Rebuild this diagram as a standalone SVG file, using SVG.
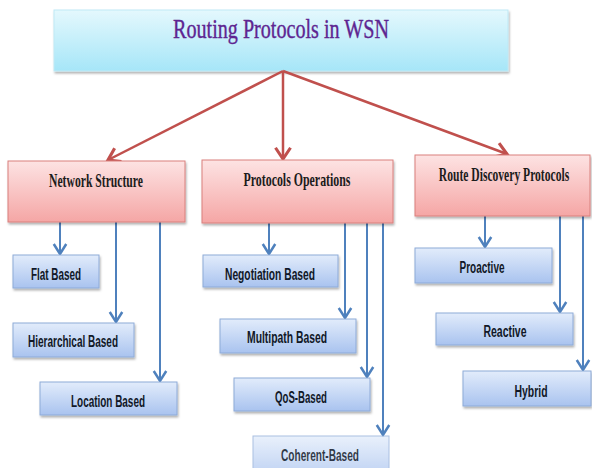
<svg xmlns="http://www.w3.org/2000/svg" width="592" height="468" viewBox="0 0 592 468">
<style>
.red{fill:url(#gRed);stroke:#d9807d;stroke-width:1}
.blue{fill:url(#gBlue);stroke:#8eabd8;stroke-width:1}
.rt{font-family:"Liberation Serif","Times New Roman",serif;font-weight:bold;font-size:19px;fill:#1c1c1c;text-anchor:middle}
.bt{font-family:"Liberation Sans",Arial,sans-serif;font-weight:bold;font-size:16px;fill:#111827;text-anchor:middle}
.ra{stroke:#c0504d;stroke-width:2.5;fill:none;marker-end:url(#mRed)}
.ba{stroke:#4f81bd;stroke-width:2;fill:none;marker-end:url(#mBlue)}
</style>
<defs>
<linearGradient id="gTitle" x1="0" y1="0" x2="0" y2="1">
<stop offset="0" stop-color="#e4f8fd"/><stop offset="1" stop-color="#a6e6f8"/>
</linearGradient>
<linearGradient id="gRed" x1="0" y1="0" x2="0" y2="1">
<stop offset="0" stop-color="#fde3e3"/><stop offset="1" stop-color="#f5a6a5"/>
</linearGradient>
<linearGradient id="gBlue" x1="0" y1="0" x2="0" y2="1">
<stop offset="0" stop-color="#e2ecfb"/><stop offset="1" stop-color="#a9c3ef"/>
</linearGradient>
<filter id="sh" x="-10%" y="-20%" width="120%" height="150%">
<feDropShadow dx="1" dy="2" stdDeviation="1.2" flood-color="#000" flood-opacity="0.3"/>
</filter>
<marker id="mRed" markerUnits="userSpaceOnUse" markerWidth="20" markerHeight="20" refX="0" refY="0" viewBox="-12 -8 14 16" orient="auto" overflow="visible">
<path d="M-9,-6 L0,0 L-9,6" fill="none" stroke="#c0504d" stroke-width="2.5"/>
</marker>
<marker id="mBlue" markerUnits="userSpaceOnUse" markerWidth="20" markerHeight="20" refX="0" refY="0" viewBox="-12 -8 14 16" orient="auto" overflow="visible">
<path d="M-8,-5 L0,0 L-8,5" fill="none" stroke="#4f81bd" stroke-width="2"/>
</marker>
</defs>
<rect width="592" height="468" fill="#ffffff"/>

<g id="title">
<rect x="54" y="10" width="454" height="61" fill="url(#gTitle)" stroke="#bfe9f5" stroke-width="1" filter="url(#sh)"/>
<text x="281" y="38" font-family="Liberation Serif,'Times New Roman',serif" font-size="28" fill="#5e2591" stroke="#5e2591" stroke-width="0.4" text-anchor="middle" textLength="216" lengthAdjust="spacingAndGlyphs">Routing Protocols in WSN</text>
</g>

<g id="connectors">
<path class="ra" d="M283,71 L108,160"/>
<path class="ra" d="M283,71 L283,159"/>
<path class="ra" d="M283,71 L507,154"/>
<path class="ba" d="M60,222 L60,254"/>
<path class="ba" d="M116,222 L116,322"/>
<path class="ba" d="M160,222 L160,381"/>
<path class="ba" d="M269,223 L269,254"/>
<path class="ba" d="M345,223 L345,318"/>
<path class="ba" d="M367,223 L367,377"/>
<path class="ba" d="M383,223 L383,435"/>
<path class="ba" d="M485,216 L485,247"/>
<path class="ba" d="M560,216 L560,312"/>
<path class="ba" d="M583,216 L583,370"/>
</g>

<g id="network-structure">
<rect class="red" x="8" y="161" width="177" height="61" filter="url(#sh)"/>
<text class="rt" x="96" y="187" textLength="94" lengthAdjust="spacingAndGlyphs">Network Structure</text>
</g>
<g id="protocols-operations">
<rect class="red" x="202" y="160" width="191" height="63" filter="url(#sh)"/>
<text class="rt" x="297" y="186" textLength="107" lengthAdjust="spacingAndGlyphs">Protocols Operations</text>
</g>
<g id="route-discovery">
<rect class="red" x="415" y="155" width="175" height="61" filter="url(#sh)"/>
<text class="rt" transform="translate(504,181) scale(0.61,1)" x="0" y="0">Route Discovery Protocols</text>
</g>

<g id="flat-based">
<rect class="blue" x="13" y="255" width="86" height="33" filter="url(#sh)"/>
<text class="bt" x="56" y="280" textLength="50" lengthAdjust="spacingAndGlyphs">Flat Based</text>
</g>
<g id="hierarchical-based">
<rect class="blue" x="13" y="323" width="121" height="34" filter="url(#sh)"/>
<text class="bt" x="73" y="347" textLength="90" lengthAdjust="spacingAndGlyphs">Hierarchical Based</text>
</g>
<g id="location-based">
<rect class="blue" x="40" y="382" width="137" height="33" filter="url(#sh)"/>
<text class="bt" x="108" y="407" textLength="74" lengthAdjust="spacingAndGlyphs">Location Based</text>
</g>

<g id="negotiation-based">
<rect class="blue" x="203" y="255" width="135" height="32" filter="url(#sh)"/>
<text class="bt" x="270" y="280" textLength="90" lengthAdjust="spacingAndGlyphs">Negotiation Based</text>
</g>
<g id="multipath-based">
<rect class="blue" x="220" y="319" width="136" height="34" filter="url(#sh)"/>
<text class="bt" x="287" y="343" textLength="80" lengthAdjust="spacingAndGlyphs">Multipath Based</text>
</g>
<g id="qos-based">
<rect class="blue" x="234" y="378" width="136" height="33" filter="url(#sh)"/>
<text class="bt" x="301" y="403" textLength="52" lengthAdjust="spacingAndGlyphs">QoS-Based</text>
</g>
<g id="coherent-based">
<rect class="blue" x="253" y="436" width="136" height="40" opacity="0.75"/>
<text class="bt" x="320" y="461" textLength="78" lengthAdjust="spacingAndGlyphs" fill-opacity="0.85">Coherent-Based</text>
</g>

<g id="proactive">
<rect class="blue" x="415" y="248" width="137" height="35" filter="url(#sh)"/>
<text class="bt" x="482" y="273" textLength="45" lengthAdjust="spacingAndGlyphs">Proactive</text>
</g>
<g id="reactive">
<rect class="blue" x="436" y="313" width="137" height="32" filter="url(#sh)"/>
<text class="bt" x="505" y="337" textLength="43" lengthAdjust="spacingAndGlyphs">Reactive</text>
</g>
<g id="hybrid">
<rect class="blue" x="463" y="371" width="128" height="35" filter="url(#sh)"/>
<text class="bt" x="531" y="397" textLength="33" lengthAdjust="spacingAndGlyphs">Hybrid</text>
</g>
</svg>
